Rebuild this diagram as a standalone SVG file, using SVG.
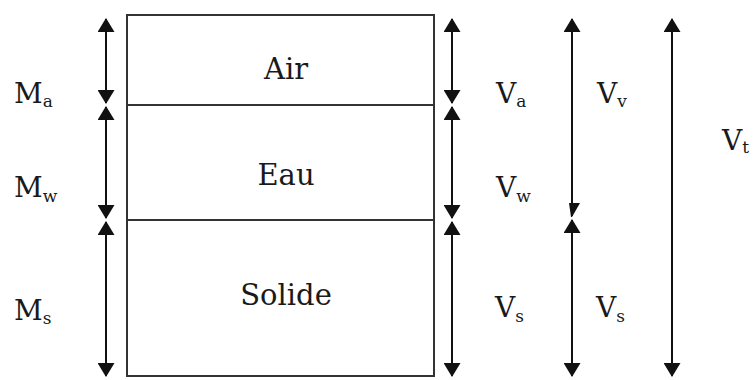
<svg xmlns="http://www.w3.org/2000/svg" width="755" height="380" viewBox="0 0 755 380">
<style>
.box{fill:none;stroke:#333;stroke-width:2}
.div{stroke:#333;stroke-width:2}
.lbl{font-size:28px;fill:#1a1a1a}
.sub{font-size:17px}
.ph{font-size:29px;fill:#1a1a1a;text-anchor:middle}
.arr{stroke:#111;stroke-width:2;fill:none;marker-start:url(#ah);marker-end:url(#ah)}
.arr1{stroke:#111;stroke-width:2;fill:none;marker-start:url(#ah)}
</style>
<defs>
<marker id="ah" viewBox="0 0 14 17" refX="13" refY="8.5" markerWidth="14" markerHeight="17" markerUnits="userSpaceOnUse" orient="auto-start-reverse">
<path d="M0,0 L14,8.5 L0,17 z" fill="#111"/>
</marker>
</defs>
<g id="sample">
<rect class="box" x="127" y="15" width="307" height="361"/>
<line class="div" x1="127" y1="105" x2="434" y2="105"/>
<line class="div" x1="127" y1="220" x2="434" y2="220"/>
</g>
<g font-family="DejaVu Serif, serif">
<g id="air"><text class="ph" x="286" y="79">Air</text></g>
<g id="eau"><text class="ph" x="286" y="185">Eau</text></g>
<g id="solide"><text class="ph" x="286" y="305">Solide</text></g>
</g>
<g id="connectors">
<line class="arr" x1="106" y1="19" x2="106" y2="103"/>
<line class="arr" x1="106" y1="107" x2="106" y2="218"/>
<line class="arr" x1="106" y1="222" x2="106" y2="376"/>
<line class="arr" x1="452" y1="19" x2="452" y2="103"/>
<line class="arr" x1="452" y1="107" x2="452" y2="218"/>
<line class="arr" x1="452" y1="222" x2="452" y2="376"/>
<line class="arr1" x1="572" y1="19" x2="572" y2="216"/>
<polygon points="569,203 580,203 572,217 571,217" fill="#111"/>
<line class="arr" x1="572" y1="220" x2="572" y2="376"/>
<line class="arr" x1="672" y1="19" x2="672" y2="376"/>
</g>
<g id="labels" font-family="DejaVu Serif, serif">
<text class="lbl" x="14" y="103">M<tspan class="sub" dy="4">a</tspan></text>
<text class="lbl" x="14" y="197">M<tspan class="sub" dy="5">w</tspan></text>
<text class="lbl" x="14" y="320">M<tspan class="sub" dy="4">s</tspan></text>
<text class="lbl" x="496" y="103">V<tspan class="sub" dy="4">a</tspan></text>
<text class="lbl" x="496" y="197">V<tspan class="sub" dy="5">w</tspan></text>
<text class="lbl" x="495" y="317">V<tspan class="sub" dy="5">s</tspan></text>
<text class="lbl" x="597" y="103">V<tspan class="sub" dy="4">v</tspan></text>
<text class="lbl" x="596" y="317">V<tspan class="sub" dy="5">s</tspan></text>
<text class="lbl" x="722" y="150">V<tspan class="sub" dy="3">t</tspan></text>
</g>
</svg>
